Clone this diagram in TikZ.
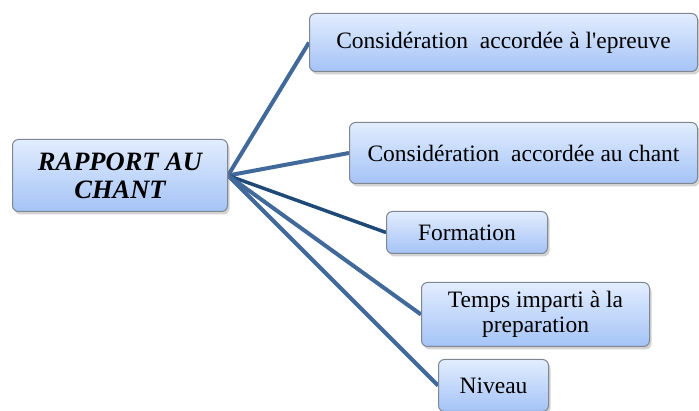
\documentclass[tikz,border=0pt]{standalone}
\usepackage{fontspec}
\setmainfont{Liberation Serif}
\usepackage{tikz}
\usetikzlibrary{shapes,positioning,shadows,backgrounds}
\definecolor{boxtop}{RGB}{226,237,254}
\definecolor{boxbot}{RGB}{164,195,246}
\definecolor{boxline}{RGB}{128,134,146}
\definecolor{branch}{RGB}{65,105,154}
\definecolor{branchdark}{RGB}{31,74,120}
\tikzstyle{item} = [rectangle, rounded corners=6pt, draw=boxline, line width=1pt, top color=boxtop, bottom color=boxbot, drop shadow={opacity=0.35, shadow xshift=2pt, shadow yshift=-3pt}, text=black, align=center, anchor=north west, inner sep=0pt, font=\fontsize{23.5}{25}\selectfont]
\tikzstyle{tedge}  = [draw=branch, line width=4pt]

\begin{document}
\begin{tikzpicture}[x=1pt, y=-1pt]
\useasboundingbox (0,0) rectangle (699,411);

% root =============================
\node[item, minimum width=215pt, minimum height=72pt, font=\fontsize{26.5}{28}\selectfont\bfseries\itshape] (rapport) at (12,139) {RAPPORT AU\\CHANT};

% branches
\node[item, minimum width=388pt, minimum height=58pt] (epreuve) at (309,13) {Considération\ \ accordée à l\textquotesingle epreuve};
\node[item, minimum width=348pt, minimum height=61pt] (chant) at (349,122) {Considération\ \ accordée au chant};
\node[item, minimum width=161pt, minimum height=42pt] (formation) at (386,211) {Formation};
\node[item, minimum width=228pt, minimum height=64pt] (temps) at (421,282) {Temps imparti à la\\preparation};
\node[item, minimum width=110pt, minimum height=52pt] (niveau) at (438,359) {Niveau};

%edges
\begin{scope}[on background layer]
\path[tedge] (rapport.east) -- (epreuve.west);
\path[tedge] (rapport.east) -- (chant.west);
\path[tedge, draw=branchdark, line width=3.5pt] (rapport.east) -- (formation.west);
\path[tedge] (rapport.east) -- (temps.west);
\path[tedge] (rapport.east) -- (niveau.west);
\end{scope}

\end{tikzpicture}
\end{document}
